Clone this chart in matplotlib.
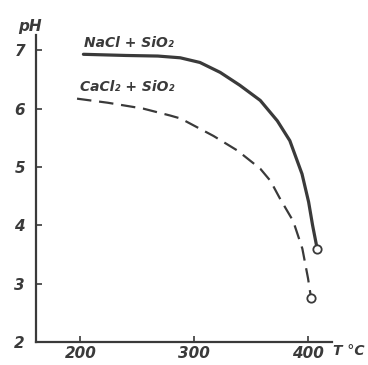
import matplotlib
matplotlib.use('Agg')
import matplotlib.pyplot as plt

# pH vs temperature
t_nacl = [202.6, 240, 268, 287.7, 305, 322.8, 340, 358, 373, 384, 394.7, 400.5, 404, 406.5, 408]
ph_nacl = [6.93, 6.91, 6.90, 6.87, 6.79, 6.62, 6.40, 6.14, 5.79, 5.45, 4.88, 4.40, 4.00, 3.75, 3.60]

t_cacl = [197, 224, 255, 279, 288, 317, 338, 358, 367, 375, 387, 395, 400, 402.6]
ph_cacl = [6.17, 6.10, 6.00, 5.88, 5.83, 5.53, 5.28, 4.97, 4.76, 4.47, 4.07, 3.60, 3.09, 2.76]

x_ticks = [200, 300, 400]
y_ticks = [2, 3, 4, 5, 6, 7]

ink = '#3a3a3a'
font = {'family': 'DejaVu Sans', 'style': 'italic', 'weight': 'bold'}

fig = plt.figure(figsize=(3.68, 3.65), dpi=100)
ax = fig.add_axes([0.098, 0.063, 0.804, 0.841])

ax.plot(t_nacl, ph_nacl, color=ink, lw=2.3, solid_capstyle='round', solid_joinstyle='round')
ax.plot(t_nacl[-1], ph_nacl[-1], 'o', mfc='white', mec=ink, mew=1.3, ms=6)
ax.plot(t_cacl, ph_cacl, color=ink, lw=1.6, dashes=(6.5, 3.5))
ax.plot(t_cacl[-1], ph_cacl[-1], 'o', mfc='white', mec=ink, mew=1.3, ms=6)

ax.set_xlim(161, 421)
ax.set_ylim(2, 7.26)
for s in ['top', 'right']:
    ax.spines[s].set_visible(False)
for s in ['left', 'bottom']:
    ax.spines[s].set_color(ink)
    ax.spines[s].set_linewidth(1.6)

ax.set_xticks(x_ticks)
ax.set_yticks(y_ticks)
ax.set_xticklabels([str(v) for v in x_ticks], fontsize=11, color=ink, **font)
ax.set_yticklabels([str(v) for v in y_ticks], fontsize=11, color=ink, **font)
ax.tick_params(direction='in', length=4, width=1.2, color=ink, pad=3)
ax.tick_params(axis='y', pad=8)

ax.text(203, 7.05, 'NaCl + SiO₂', fontsize=10, color=ink, **font)
ax.text(200, 6.3, 'CaCl₂ + SiO₂', fontsize=10, color=ink, **font)

fig.text(0.05, 0.915, 'pH', fontsize=11, color=ink, **font)
fig.text(0.905, 0.028, 'T °C', fontsize=10, color=ink, **font)

fig.savefig('out.png', dpi=100)
